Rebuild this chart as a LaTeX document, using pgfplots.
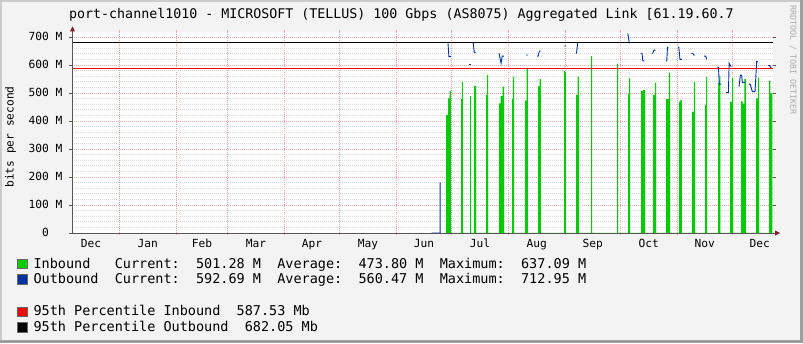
\documentclass[border=0pt]{standalone}
\usepackage{pgfplots}
\pgfplotsset{compat=1.18}
\usepackage{fontspec}
\setmainfont{DejaVu Sans Mono}
\definecolor{back}{HTML}{F3F3F3}
\definecolor{shadea}{HTML}{CBCBCB}
\definecolor{shadeb}{HTML}{9E9E9E}
\definecolor{ingreen}{HTML}{00CC00}
\definecolor{outblue}{HTML}{0033A0}
\definecolor{mgrid}{HTML}{EFA7A7}
\definecolor{mingrid}{HTML}{D8D8D8}
\definecolor{axiscol}{HTML}{555555}
\definecolor{arrowcol}{HTML}{7F1F1F}
\definecolor{credit}{HTML}{AAAAAA}
\newcommand\legfont{\fontsize{13.5}{16}\selectfont}
\newcommand\titfont{\fontsize{13.3}{16}\selectfont}
\newcommand\axfont{\fontsize{11.2}{13}\selectfont}
\begin{document}
\begin{tikzpicture}
% canvas and frame
\fill[back] (0pt,0pt) rectangle (803pt,343pt);
\fill[shadea] (0pt,0pt) rectangle (2pt,343pt);
\fill[shadea] (0pt,341pt) rectangle (803pt,343pt);
\fill[shadeb] (800pt,0pt) rectangle (803pt,343pt);
\fill[shadeb] (0pt,0pt) rectangle (803pt,3pt);
% title
\node[anchor=base west, inner sep=0pt] at (69pt,324.5pt) {\titfont port-channel1010\ -\ MICROSOFT\ (TELLUS)\ 100\ Gbps\ (AS8075)\ Aggregated\ Link\ [61.19.60.7};
% credit
\node[rotate=-90, inner sep=0pt, text=credit] at (793pt,283pt) {\fontsize{8.3}{10}\selectfont RRDTOOL\ /\ TOBI\ OETIKER};
% y label
\node[rotate=90, inner sep=0pt] at (10.5pt,206pt) {\axfont bits\ per\ second};
\begin{scope}[shift={(72pt,110pt)}]
\begin{axis}[
  at={(0pt,0pt)}, anchor=south west,
  scale only axis, width=701pt, height=201pt,
  xmin=-25.8, xmax=356.2, ymin=0, ymax=718,
  axis background/.style={fill=white},
  axis line style={draw=none},
  xtick={0,31,59,90,120,151,181,212,243,273,304,334},
  xticklabels={},
  extra x ticks={-15.5,15.5,45,74.5,105,135.5,166,196.5,227.5,258,288.5,319,349},
  extra x tick labels={Dec,Jan,Feb,Mar,Apr,May,Jun,Jul,Aug,Sep,Oct,Nov,Dec},
  extra x tick style={grid=none, major tick length=0pt},
  ytick={0,100,200,300,400,500,600,700},
  yticklabels={0\phantom{\ M},100\ M,200\ M,300\ M,400\ M,500\ M,600\ M,700\ M},
  minor ytick={20,40,60,80,120,140,160,180,220,240,260,280,320,340,360,380,420,440,460,480,520,540,560,580,620,640,660,680},
  xmajorgrids, ymajorgrids, yminorgrids,
  major grid style={draw=mgrid, line width=0.7pt, dash pattern=on 1pt off 1pt},
  minor grid style={draw=mingrid, line width=0.7pt, dash pattern=on 1pt off 1pt},
  tick align=outside,
  major tick length=2.5pt, minor tick length=0pt,
  x tick style={draw=mgrid, line width=0.8pt},
  y tick style={draw=axiscol, line width=0.6pt},
  tick label style={font=\axfont, inner sep=0pt},
  xticklabel style={anchor=base, yshift=-14.3pt},
  yticklabel style={anchor=base east, xshift=-7pt, yshift=-3.6pt},
  clip=true,
]
% Inbound (area)
\addplot[fill=ingreen, draw=none, sharp plot] coordinates {
(178.04,0)(178.04,421)(179.1,421)(179.1,481)(180.0,481)(180.0,507)(180.6,507)(180.6,0)
(186.21,0)(186.21,478)(186.7,478)(186.7,540)(187.14,540)(187.14,0)
(191.12,0)(191.12,489)(191.66,489)(191.66,0)
(193.30,0)(193.30,525)(194.39,525)(194.39,0)
(199.84,0)(199.84,493)(200.4,493)(200.4,564)(200.93,564)(200.93,0)
(206.92,0)(206.92,463)(207.8,463)(207.8,489)(208.8,489)(208.8,523)(209.65,523)(209.65,0)
(213.98,0)(213.98,478)(214.5,478)(214.5,558)(215.07,558)(215.07,0)
(221.09,0)(221.09,473)(221.9,473)(221.9,585)(222.56,585)(222.56,0)
(228.17,0)(228.17,525)(229.0,525)(229.0,550)(229.64,550)(229.64,0)
(242.34,0)(242.34,578)(242.8,578)(242.8,574)(243.27,574)(243.27,0)
(248.88,0)(248.88,493)(249.7,493)(249.7,558)(250.35,558)(250.35,0)
(257.06,0)(257.06,632)(257.60,632)(257.60,0)
(271.23,0)(271.23,604)(271.77,604)(271.77,0)
(277.22,0)(277.22,496)(277.8,496)(277.8,553)(278.31,553)(278.31,0)
(284.30,0)(284.30,508)(285.4,508)(285.4,511)(286.48,511)(286.48,0)
(290.84,0)(290.84,493)(291.9,493)(291.9,537)(292.48,537)(292.48,0)
(297.93,0)(297.93,478)(299.4,478)(299.4,573)(300.11,573)(300.11,0)
(305.01,0)(305.01,469)(305.7,469)(305.7,475)(306.49,475)(306.49,0)
(311.94,0)(311.94,433)(313.1,433)(313.1,540)(313.73,540)(313.73,0)
(319.18,0)(319.18,457)(319.8,457)(319.8,558)(320.27,558)(320.27,0)
(326.27,0)(326.27,535)(327.0,535)(327.0,560)(327.52,560)(327.52,0)
(332.81,0)(332.81,469)(333.9,469)(333.9,555)(334.44,555)(334.44,0)
(338.80,0)(338.80,470)(339.6,470)(339.6,462)(340.6,462)(340.6,550)(341.36,550)(341.36,0)
(346.98,0)(346.98,481)(348.0,481)(348.0,555)(348.61,555)(348.61,0)
(354.06,0)(354.06,543)(354.8,543)(354.8,499)(355.86,499)(355.86,0)
};
% Outbound (line with gaps)
\addplot[draw=outblue, line width=0.9pt, sharp plot, unbounded coords=jump, mark=none] coordinates {
(170.2,0)(174.8,0)(174.8,181)(175,nan)
(179.1,677)(179.6,630)(180.6,630)(181,nan)
(190.6,602)(191.5,602)(192,nan)
(192.8,683)(193.4,645)(194.2,645)(195,nan)
(206.9,642)(208.0,606)(208.6,632)(209.6,632)(210,nan)
(221.6,636)(222.7,636)(223,nan)
(227.6,632)(228.2,632)(228.9,650)(229.6,650)(230,nan)
(242.3,668)(243.3,668)(244,nan)
(248.7,642)(249.1,642)(249.8,680)(250,nan)
(277.1,713)(277.9,677)(278,nan)
(284.1,642)(284.8,642)(285.3,615)(286.1,615)(287,nan)
(290.1,642)(290.7,642)(291.3,653)(292.3,653)(293,nan)
(297.8,615)(298.3,615)(298.7,663)(299.2,663)(300,nan)
(304.3,663)(304.9,663)(305.5,620)(306.5,620)(307,nan)
(311.6,642)(312.5,642)(313.0,636)(313.7,636)(314,nan)
(318.6,632)(319.5,632)(320.1,620)(321,nan)
(325.7,592)(326.5,592)(326.9,532)(327.9,532)(328,nan)
(330.6,502)(331.9,502)(332.3,606)(333.4,594)(334,nan)
(337.7,523)(338.4,564)(339.1,564)(339.5,538)(341.0,538)(342,nan)
(343.1,532)(343.8,532)(344.9,505)(346.4,505)(347.3,612)(348.0,612)(349,nan)
(353.5,598)(354.4,598)(354.9,590)(355.5,590)
};
% 95th percentile rules
\addplot[draw=red, line width=1pt, sharp plot] coordinates {(-25.8,587.53)(356.2,587.53)};
\addplot[draw=black, line width=1pt, sharp plot] coordinates {(-25.8,682.05)(356.2,682.05)};
\end{axis}
\end{scope}
% axis lines and arrows
\draw[axiscol, line width=0.8pt] (72.5pt,110pt) -- (72.5pt,312pt);
\draw[axiscol, line width=0.8pt] (72pt,110pt) -- (775pt,110pt);
\fill[arrowcol] (72.5pt,316.5pt) -- (70pt,311.5pt) -- (75pt,311.5pt) -- cycle;
\fill[arrowcol] (780pt,110pt) -- (775pt,112.6pt) -- (775pt,107.4pt) -- cycle;
% legend
\filldraw[fill=ingreen, draw=black!60, line width=0.6pt] (17.5pt,74.3pt) rectangle (27pt,83.8pt);
\filldraw[fill=outblue, draw=black!60, line width=0.6pt] (17.5pt,58.9pt) rectangle (27pt,68.4pt);
\filldraw[fill=red, draw=black!60, line width=0.6pt] (17.5pt,26.6pt) rectangle (27pt,36.1pt);
\filldraw[fill=black, draw=black!60, line width=0.6pt] (17.5pt,11.0pt) rectangle (27pt,20.5pt);
\node[anchor=base west, inner sep=0pt] at (33.3pt,74.7pt) {\legfont Inbound\ \ \ Current:\ \ 501.28\ M\ \ Average:\ \ 473.80\ M\ \ Maximum:\ \ 637.09\ M};
\node[anchor=base west, inner sep=0pt] at (33.3pt,59.3pt) {\legfont Outbound\ \ Current:\ \ 592.69\ M\ \ Average:\ \ 560.47\ M\ \ Maximum:\ \ 712.95\ M};
\node[anchor=base west, inner sep=0pt] at (33.3pt,27.3pt) {\legfont 95th\ Percentile\ Inbound\ \ 587.53\ Mb};
\node[anchor=base west, inner sep=0pt] at (33.3pt,11.7pt) {\legfont 95th\ Percentile\ Outbound\ \ 682.05\ Mb};
\pgfresetboundingbox
\path[use as bounding box] (0pt,0pt) rectangle (803pt,343pt);
\end{tikzpicture}
\end{document}
